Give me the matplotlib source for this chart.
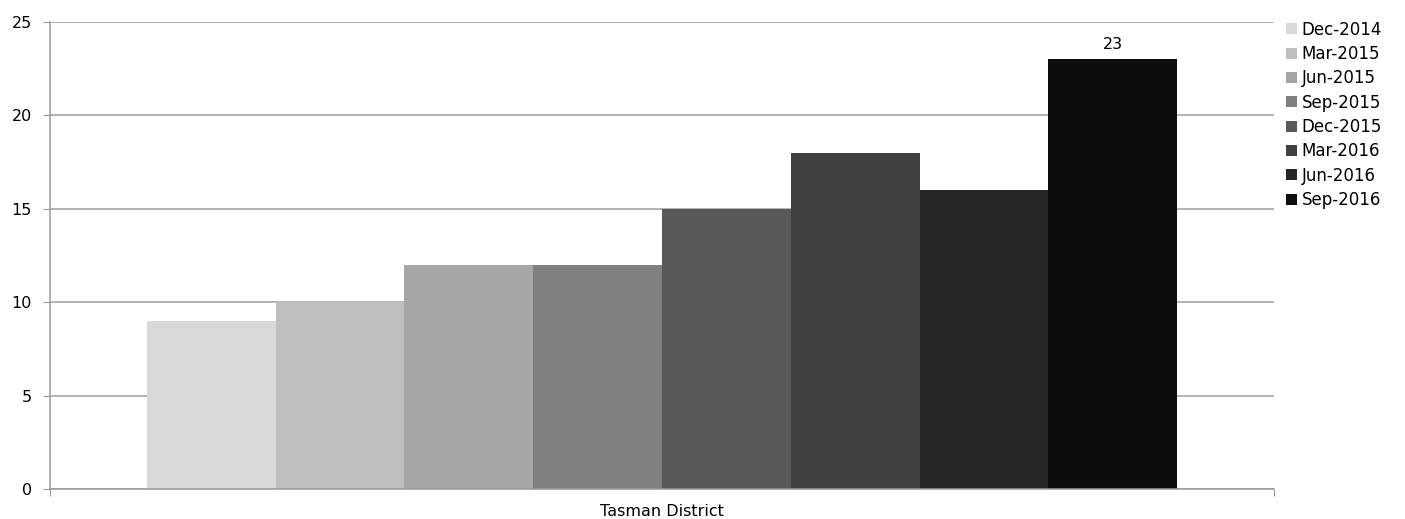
import matplotlib
matplotlib.use("Agg")
import matplotlib.pyplot as plt
from matplotlib.patches import Patch

plt.rcParams["font.family"] = ["DejaVu Sans"]

periods = ["Dec-2014", "Mar-2015", "Jun-2015", "Sep-2015",
           "Dec-2015", "Mar-2016", "Jun-2016", "Sep-2016"]
values = [9, 10, 12, 12, 15, 18, 16, 23]
colors = ["#d9d9d9", "#bfbfbf", "#a6a6a6", "#808080",
          "#595959", "#404040", "#262626", "#0d0d0d"]
category = "Tasman District"
yticks = [0, 5, 10, 15, 20, 25]

FS = 11.5
W, H = 1405, 519
fig = plt.figure(figsize=(W / 100, H / 100), dpi=100)
ax = fig.add_axes([50 / W, 1 - 489 / H, 1224 / W, 467 / H])

n = len(values)
for i, (v, c) in enumerate(zip(values, colors)):
    ax.bar(i - (n - 1) / 2, v, width=1.0, color=c, label=periods[i], zorder=2)

ax.annotate(str(values[-1]), xy=((n - 1) / 2, values[-1]), xytext=(0, 5),
            textcoords="offset points", ha="center", va="bottom", fontsize=FS,
            color="#000000")

half = 4.753
ax.set_xlim(-half, half)
ax.set_ylim(0, 25)
ax.set_yticks(yticks)
ax.yaxis.grid(True, color="#a0a0a0", linewidth=1.1, zorder=0)
ax.set_axisbelow(True)

ax.set_xticks([-half, half])
ax.set_xticklabels(["", ""])
ax.set_xticks([0], minor=True)
ax.set_xticklabels([category], minor=True)
ax.tick_params(axis="x", which="major", length=5, color="#999999", direction="out")
ax.tick_params(axis="x", which="minor", length=0, pad=11, labelsize=FS)
ax.tick_params(axis="y", length=5, color="#999999", labelsize=FS, pad=8)

for s in ["top", "right"]:
    ax.spines[s].set_visible(False)
for s in ["left", "bottom"]:
    ax.spines[s].set_color("#999999")
    ax.spines[s].set_linewidth(1.1)

handles = [Patch(facecolor=c, edgecolor="none") for c in colors]
fig.legend(handles, periods, loc="upper left", bbox_to_anchor=(1279 / W, 1 - 14 / H),
           frameon=False, fontsize=12, handlelength=0.65, handleheight=0.65,
           handletextpad=0.3, labelspacing=0.38, borderaxespad=0)

fig.savefig("out.png", dpi=100)
